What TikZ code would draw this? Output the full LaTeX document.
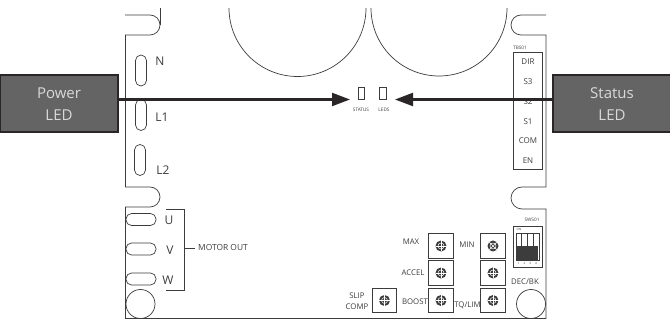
\documentclass[tikz,border=0pt]{standalone}
\usepackage{fontspec}
\setmainfont{Open Sans}
\usetikzlibrary{arrows.meta,calc}
\definecolor{ledgray}{HTML}{646464}
\definecolor{ledline}{HTML}{2A2627}
\definecolor{boardline}{HTML}{3C3C3C}
\tikzset{
 board/.style={draw=boardline,line width=0.7pt},
 slot/.style={draw=boardline,line width=0.7pt,rounded corners=5.5pt,minimum width=11pt,minimum height=31pt,inner sep=0},
 hslot/.style={draw=boardline,line width=0.7pt,rounded corners=5.5pt,minimum width=30pt,minimum height=12pt,inner sep=0},
 lbl/.style={text=boardline,font=\fontsize{12}{14}\selectfont,inner sep=0},
 small/.style={text=boardline,font=\fontsize{7.8}{11.5}\selectfont,inner sep=0},
 tiny/.style={text=boardline,font=\fontsize{4.7}{5}\selectfont,inner sep=0},
 micro/.style={text=boardline,font=\fontsize{3}{3}\selectfont,inner sep=0},
 tb/.style={text=boardline,font=\fontsize{8}{10}\selectfont,inner sep=0},
 potbox/.style={draw=boardline,line width=0.8pt,minimum size=24.5pt,inner sep=0},
 ledbox/.style={draw=boardline,line width=0.7pt,minimum width=6.5pt,minimum height=12pt,inner sep=0},
 callout/.style={draw=ledline,line width=2pt,fill=ledgray,text=white!85!black,font=\fontsize{15}{22}\selectfont,align=center,minimum width=118pt,minimum height=57pt,inner sep=0},
 leader/.style={draw=ledline,line width=2.2pt,-{Triangle[length=18pt,width=13pt]}},
}
\newcommand{\potmark}[3]{%
 \fill[boardline] (#1,#2) circle (5.5pt);
 \draw[white,line width=0.5pt] (#1,#2) circle (3pt);
 \begin{scope}[shift={(#1,#2)},rotate=#3]
 \draw[white,line width=0.6pt] (-5.5,0)--(5.5,0) (0,-5.5)--(0,5.5);
 \end{scope}}
\begin{document}
\begin{tikzpicture}[x=1pt,y=-1pt]
\useasboundingbox (0,0) rectangle (670,320);
% board outline
\draw[board] (125,15) -- (150,15) arc[start angle=-90,end angle=90,radius=10] -- (125.5,35) -- (125.5,187) -- (150,187) arc[start angle=-90,end angle=90,radius=10] -- (125.5,207) -- (125.5,318.5) -- (546,318.5) -- (546,209) -- (522,209) arc[start angle=90,end angle=270,x radius=11,y radius=11] -- (546,187) -- (546,35) -- (521,35) arc[start angle=90,end angle=270,radius=10] -- (546,15);
\draw[board] (160,8) -- (160,25);
% big circles
\draw[board] (229,8) arc[start angle=180,end angle=0,radius=68.5];
\draw[board] (371,8) arc[start angle=180,end angle=0,radius=68];
% slots
\node[slot] (n) at (141,70.5) {};
\node[slot] (l1) at (141,115) {};
\node[slot] (l2) at (140,160) {};
\node[hslot] (u) at (141,219.5) {};
\node[hslot] (v) at (141,249) {};
\node[hslot] (w) at (141,279) {};
\node[draw=boardline,line width=0.7pt,circle,minimum size=29pt,inner sep=0] (c1) at (140.5,304) {};
\node[draw=boardline,line width=0.7pt,circle,minimum size=29pt,inner sep=0] (c2) at (531,304) {};
\node[lbl] (tn) at (160,61) {N};
\node[lbl] (tl1) at (162,117) {L1};
\node[lbl] (tl2) at (163,170) {L2};
\node[lbl] (tu) at (169,220) {U};
\node[lbl] (tv) at (170,250) {V};
\node[lbl] (tw) at (168,280) {W};
\coordinate (bt) at (166,209);
\coordinate (bb) at (166,290);
\coordinate (bc) at (184,209);
\coordinate (bd) at (184,290);
\draw[board] (bt) -- (bc) -- (bd) -- (bb);
\node[small,anchor=west,font=\fontsize{8.4}{10}\selectfont] (mo) at (198,247.5) {MOTOR OUT};
\coordinate (mt) at (184,248);
\coordinate (mu) at (195,248);
\draw[board] (mt) -- (mu);
% LEDs
\node[ledbox] (led1) at (361.5,93) {};
\node[ledbox] (led2) at (383,93) {};
\node[tiny] (st) at (361,110) {STATUS};
\node[tiny] (ld) at (384,110) {LEDS};
% terminal block
\node[draw=boardline,line width=0.7pt,minimum width=29pt,minimum height=117pt,inner sep=0] (tbk) at (527.5,110.5) {};
\node[tiny] (tbl) at (520,48) {TBS01};
\foreach \t/\y in {DIR/62,S3/82,S2/102,S1/122,COM/141,EN/161}{\node[tb] at (528,\y) {\t};}
% pots
\foreach \x/\y/\nm/\r in {441/246/a/0,441/273/b/0,441/300.5/c/0,493/246/d/45,493/273/e/0,493/300.5/f/0,384.5/300.5/g/0}{
 \node[potbox] (p\nm) at (\x,\y) {};
 \potmark{\x}{\y}{\r}
}
\node[small] at (411,242) {MAX};
\node[small] at (413,273) {ACCEL};
\node[small] at (415,302) {BOOST};
\node[small] at (467,245) {MIN};
\node[small] at (467.5,305) {TQ/LIM};
\node[small,align=center] at (357,301) {SLIP\\COMP};
\node[small] at (525,282) {DEC/BK};
% DIP
\node[tiny] at (532,220) {SW501};
\node[draw=boardline,line width=0.7pt,minimum width=29pt,minimum height=41pt,inner sep=0] (sw) at (527.5,246.5) {};
\node[micro] at (519,229) {ON};
\foreach \x/\n in {516/1,521.7/2,527.4/3,533.1/4}{
 \draw[boardline,line width=0.6pt] (\x,233) rectangle +(5.7,27);
 \fill[boardline] (\x+0.5,246) rectangle +(4.7,14);
 \node[micro] at (\x+2.8,263) {\n};
}
% callouts
\node[callout] (pw) at (59,104) {Power\\LED};
\node[callout] (stl) at (612,104) {Status\\LED};
\coordinate (la) at (350,99.5);
\coordinate (ra) at (395,99.5);
\draw[leader] (pw.east |- la) -- (la);
\draw[leader] (stl.west |- ra) -- (ra);
\end{tikzpicture}
\end{document}
